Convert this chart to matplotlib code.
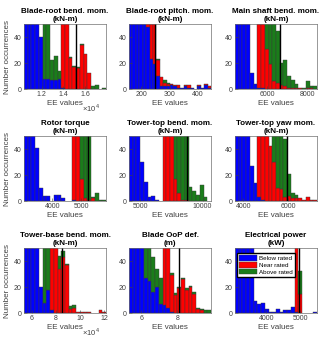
import numpy as np
import matplotlib
matplotlib.use('Agg')
import matplotlib.pyplot as plt
from matplotlib.ticker import FuncFormatter

plt.rcParams['font.family'] = ['Liberation Sans', 'DejaVu Sans']
plt.rcParams['mathtext.fontset'] = 'custom'
plt.rcParams['mathtext.rm'] = 'Liberation Sans'

BLUE = '#0000ff'
RED = '#ff0000'
GREEN = '#1a7d1a'
EDGE = '#3a3a3a'
GREY = '#404040'

# histogram counts per bin (below / near / above rated), bars above 50 are clipped
brb_lim = [10380, 17900]
brb_blue = [80, 80, 80, 80, 40, 8, 8, 7, 7, 8, 1, 0, 0, 0, 0, 0, 0, 0, 0, 0, 0, 0]
brb_red = [0, 0, 0, 0, 0, 0, 0, 0, 0, 0, 80, 80, 24, 17, 16, 34, 27, 12, 0, 0, 0, 0]
brb_green = [0, 0, 0, 0, 0, 70, 70, 15, 18, 6, 0, 0, 1, 1, 1, 1, 0, 0, 2, 3, 0, 1]
brb_ee = 15180

brp_lim = [157, 446]
brp_blue = [80, 80, 80, 80, 80, 48, 23, 19, 10, 2, 2, 2, 3, 2, 1, 1, 2, 1, 1, 0, 2, 1, 3, 1]
brp_red = [0, 0, 0, 0, 0, 30, 60, 60, 12, 7, 3, 2, 1, 1, 2, 0, 1, 2, 0, 0, 1, 0, 1, 1]
brp_green = [0, 0, 0, 0, 0, 0, 0, 0, 1, 0, 2, 1, 0, 0, 0, 0, 0, 0, 0, 0, 0, 0, 0, 0]
brp_ee = 247

msb_lim = [4420, 8470]
msb_blue = [80, 80, 80, 80, 12, 4, 1, 1, 0, 0, 0, 0, 0, 0, 0, 0, 0, 0, 0, 0, 0, 0]
msb_red = [0, 0, 0, 0, 0, 0, 80, 80, 31, 19, 6, 5, 3, 2, 1, 1, 1, 1, 0, 1, 1, 0]
msb_green = [0, 0, 0, 0, 0, 0, 0, 0, 50, 60, 60, 40, 17, 20, 9, 6, 3, 0, 1, 5, 1, 2]
msb_ee = 6620

rt_lim = [3010, 5870]
rt_blue = [80, 80, 80, 41, 10, 4, 4, 0, 5, 5, 2, 0, 0, 1, 0, 0, 0, 0, 0, 0, 0, 0]
rt_red = [0, 0, 0, 0, 0, 0, 0, 0, 0, 0, 0, 0, 0, 80, 80, 17, 2, 1, 2, 0, 0, 0]
rt_green = [0, 0, 0, 0, 0, 0, 0, 0, 0, 0, 0, 0, 0, 0, 0, 60, 60, 60, 1, 6, 1, 1]
rt_ee = 5253

ttb_lim = [4110, 10670]
ttb_blue = [80, 80, 80, 30, 15, 3, 4, 1, 0, 0, 0, 0, 0, 0, 0, 0, 0, 0, 0, 0, 0, 0]
ttb_red = [0, 0, 0, 0, 0, 0, 0, 0, 0, 80, 80, 80, 17, 6, 1, 1, 0, 0, 0, 0, 0, 0]
ttb_green = [0, 0, 0, 0, 0, 0, 0, 0, 0, 0, 0, 0, 60, 60, 60, 60, 11, 8, 5, 12, 3, 0]
ttb_ee = 8783

tty_lim = [3625, 7280]
tty_blue = [80, 80, 80, 80, 27, 14, 3, 1, 0, 0, 0, 0, 0, 0, 0, 0, 0, 0, 0, 0, 0, 0]
tty_red = [0, 0, 0, 0, 0, 0, 80, 80, 80, 42, 30, 10, 9, 3, 4, 2, 2, 2, 1, 3, 1, 1]
tty_green = [0, 0, 0, 0, 0, 0, 0, 0, 0, 0, 30, 60, 60, 45, 17, 4, 3, 0, 0, 0, 0, 0]
tty_ee = 5940

tbb_lim = [53600, 121700]
tbb_blue = [80, 80, 80, 80, 20, 8, 18, 2, 0, 0, 0, 0, 0, 0, 0, 0, 0, 0, 0, 0, 0, 0]
tbb_red = [0, 0, 0, 0, 0, 0, 0, 70, 80, 34, 43, 37, 3, 4, 1, 1, 1, 1, 0, 0, 2, 1]
tbb_green = [0, 0, 0, 0, 0, 60, 60, 0, 0, 10, 5, 1, 2, 2, 0, 0, 0, 0, 0, 0, 0, 0]
tbb_ee = 84900

oop_lim = [5.33, 9.87]
oop_blue = [80, 80, 80, 80, 27, 25, 16, 20, 7, 6, 4, 1, 0, 0, 0, 0, 0, 0, 0, 0, 0, 0]
oop_red = [0, 0, 0, 0, 0, 0, 0, 0, 0, 70, 70, 28, 14, 19, 26, 18, 20, 15, 3, 2, 0, 0]
oop_green = [0, 0, 0, 0, 60, 60, 27, 14, 20, 0, 0, 2, 1, 1, 1, 1, 1, 1, 1, 1, 2, 2]
oop_ee = 8.09

pow_lim = [3070, 5500]
pow_blue = [80, 80, 80, 80, 80, 9, 7, 8, 3, 1, 1, 3, 1, 2, 2, 5, 1, 0, 0, 0, 0, 1]
pow_red = [0, 0, 0, 0, 0, 0, 0, 0, 0, 0, 0, 0, 0, 0, 0, 0, 80, 15, 0, 0, 0, 0]
pow_green = [0, 0, 0, 0, 0, 0, 0, 0, 0, 0, 0, 0, 0, 0, 0, 0, 0, 17, 0, 0, 0, 0]
pow_ee = 4960

titles = ['Blade-root bend. mom.\n(kN-m)', 'Blade-root pitch. mom.\n(kN-m)',
          'Main shaft bend. mom.\n(kN-m)', 'Rotor torque\n(kN-m)',
          'Tower-top bend. mom.\n(kN-m)', 'Tower-top yaw mom.\n(kN-m)',
          'Tower-base bend. mom.\n(kN-m)', 'Blade OoP def.\n(m)',
          'Electrical power\n(kW)']
xticks = [[12000, 14000, 16000], [200, 300, 400], [6000, 8000],
          [4000, 5000], [5000, 10000], [4000, 6000],
          [60000, 80000, 100000, 120000], [6, 8], [4000, 5000]]
x1e4 = [True, False, False, False, False, False, True, False, False]
legend_names = ['Below rated', 'Near rated', 'Above rated']

panels = [
    (brb_lim, brb_blue, brb_red, brb_green, brb_ee),
    (brp_lim, brp_blue, brp_red, brp_green, brp_ee),
    (msb_lim, msb_blue, msb_red, msb_green, msb_ee),
    (rt_lim, rt_blue, rt_red, rt_green, rt_ee),
    (ttb_lim, ttb_blue, ttb_red, ttb_green, ttb_ee),
    (tty_lim, tty_blue, tty_red, tty_green, tty_ee),
    (tbb_lim, tbb_blue, tbb_red, tbb_green, tbb_ee),
    (oop_lim, oop_blue, oop_red, oop_green, oop_ee),
    (pow_lim, pow_blue, pow_red, pow_green, pow_ee),
]

fig = plt.figure(figsize=(3.2, 3.4), dpi=100)
col_left = [24, 129, 235]
row_top = [24, 136, 248]
W, H = 82, 65

for i, (lim, blue, red, green, ee) in enumerate(panels):
    r, c = divmod(i, 3)
    ax = fig.add_axes([col_left[c] / 320, 1 - (row_top[r] + H) / 340, W / 320, H / 340])
    blue = np.array(blue, float)
    red = np.array(red, float)
    green = np.array(green, float)
    edges = np.linspace(lim[0], lim[1], len(blue) + 1)
    w = edges[1] - edges[0]
    centers = edges[:-1] + w / 2
    bottom = np.zeros_like(blue)
    for vals, col, name in zip([blue, red, green], [BLUE, RED, GREEN], legend_names):
        m = vals > 0
        ax.bar(centers[m], vals[m], width=w, bottom=bottom[m], color=col,
               edgecolor=EDGE, linewidth=0.3, label=name)
        bottom = bottom + vals
    ax.axvline(ee, color='k', lw=1.0)
    ax.set_xlim(lim)
    ax.set_ylim(0, 50)
    ax.set_yticks([0, 20, 40])
    ax.set_xticks(xticks[i])
    if x1e4[i]:
        ax.xaxis.set_major_formatter(FuncFormatter(lambda v, p: f'{v / 1e4:g}'))
        ax.text(0.93, -0.34, r'$\times10^{4}$', transform=ax.transAxes,
                ha='right', va='baseline', fontsize=5.5, color=GREY)
    ax.set_title(titles[i], fontsize=5.8, fontweight='bold', pad=2, linespacing=1.3)
    ax.set_xlabel('EE values', fontsize=5.8, color=GREY, labelpad=1.5)
    if c == 0:
        ax.set_ylabel('Number occurrences', fontsize=5.8, color=GREY, labelpad=2)
    ax.tick_params(direction='in', length=2, width=0.4, labelsize=5, pad=1.5,
                   colors=GREY)
    for s in ax.spines.values():
        s.set_color('#707070')
        s.set_linewidth(0.5)
    if i == 8:
        ax.legend(loc='upper left', bbox_to_anchor=(0.03, 0.92), borderaxespad=0,
                  fontsize=4.5, frameon=True, fancybox=False, edgecolor='k',
                  handlelength=2.8, handleheight=1.0, labelspacing=0.15,
                  handletextpad=0.4, borderpad=0.3, framealpha=1)

fig.savefig('out.png', dpi=100)
